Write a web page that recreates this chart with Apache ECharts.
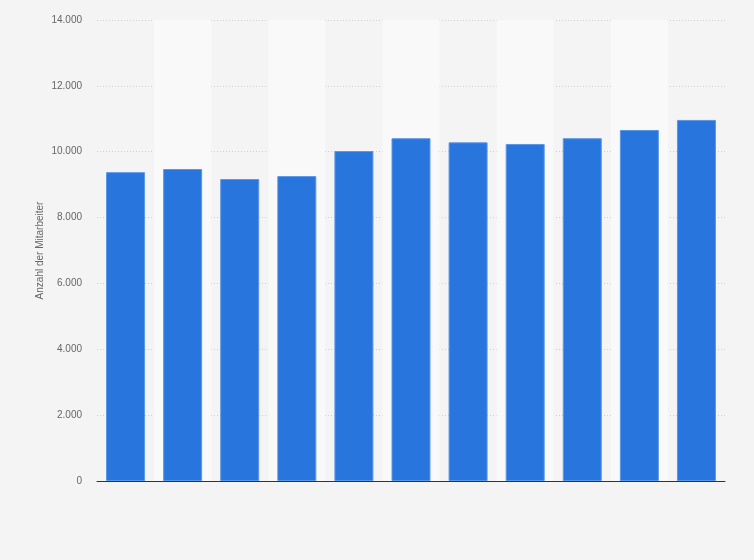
<!DOCTYPE html>
<html>
<head>
<meta charset="utf-8">
<script src="https://cdn.jsdelivr.net/npm/echarts@6/dist/echarts.min.js"></script>
<style>html,body{margin:0;padding:0;background:#f4f4f4;}#c{width:754px;height:560px;}</style>
</head>
<body>
<div id="c"></div>
<script>
const categories = ['1','2','3','4','5','6','7','8','9','10','11'];
const values = [9380, 9475, 9170, 9260, 10020, 10410, 10285, 10235, 10410, 10660, 10965];
const yTicks = [0, 2000, 4000, 6000, 8000, 10000, 12000, 14000];
const yName = 'Anzahl der Mitarbeiter';

const chart = echarts.init(document.getElementById('c'));
chart.setOption({
  backgroundColor: '#f4f4f4',
  animation: false,
  grid: {left: 97, right: 29, top: 20, bottom: 79},
  xAxis: {
    type: 'category',
    data: categories,
    axisLine: {lineStyle: {color: '#333', width: 1}},
    axisTick: {show: false},
    axisLabel: {show: false},
    splitArea: {show: true, areaStyle: {color: ['rgba(0,0,0,0)', '#f9f9f9']}}
  },
  yAxis: {
    type: 'value',
    min: yTicks[0],
    max: yTicks[yTicks.length - 1],
    interval: 2000,
    name: yName,
    nameLocation: 'middle',
    nameGap: 52,
    nameMoveOverlap: false,
    nameTextStyle: {color: '#666', fontSize: 10, fontFamily: 'Arial, Liberation Sans, sans-serif'},
    axisLine: {show: false},
    axisTick: {show: false},
    axisLabel: {
      color: '#666', fontSize: 10, margin: 15,
      fontFamily: 'Arial, Liberation Sans, sans-serif',
      formatter: v => v === 0 ? '0' : v.toLocaleString('de-DE')
    },
    splitLine: {lineStyle: {color: '#cfcfcf', type: [1, 2], width: 1}}
  },
  series: [{
    type: 'bar',
    data: values,
    barWidth: 39,
    itemStyle: {color: '#2876dd', borderColor: '#5b97e6', borderWidth: 1}
  }]
});
</script>
</body>
</html>
